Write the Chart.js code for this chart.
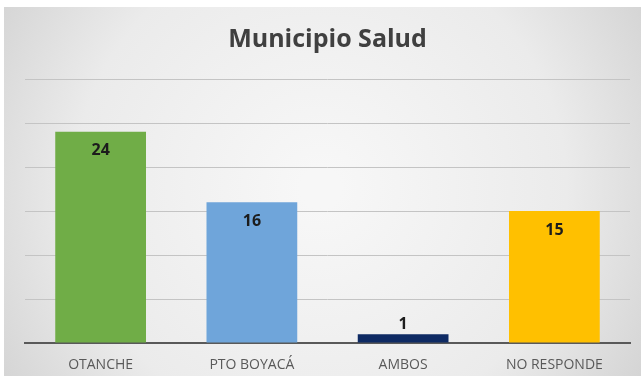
<!DOCTYPE html>
<html>
<head>
    <title>Municipio Salud</title>
    <script src="https://cdn.jsdelivr.net/npm/chart.js@4.4.0/dist/chart.umd.min.js"></script>
    <style>
        html, body { margin: 0; padding: 0; background: #ffffff; }
        #wrap { width: 641px; height: 376px; }
    </style>
</head>
<body>
    <div id="wrap"><canvas id="saludChart" width="641" height="376"></canvas></div>

    <script>
        // Respuestas por municipio
        const categories = ['OTANCHE', 'PTO BOYACÁ', 'AMBOS', 'NO RESPONDE'];
        const counts = [24, 16, 1, 15];
        const barColors = ['#70AD47', '#6FA5DA', '#0E2A63', '#FFC000'];
        const yTicks = [0, 5, 10, 15, 20, 25, 30];

        // Gray panel with a soft radial highlight behind the chart
        const panelBackground = {
            id: 'panelBackground',
            beforeDraw(chart) {
                const ctx = chart.ctx;
                const w = chart.width, h = chart.height;
                ctx.save();
                ctx.fillStyle = '#ffffff';
                ctx.fillRect(0, 0, w, h);
                const g = ctx.createRadialGradient(w / 2, h / 2, 20, w / 2, h / 2, w * 0.62);
                g.addColorStop(0, '#f7f7f7');
                g.addColorStop(0.6, '#ebebeb');
                g.addColorStop(1, '#d0d0d0');
                ctx.fillStyle = g;
                ctx.fillRect(4, 7, w - 4, h - 7);
                ctx.restore();
            }
        };

        // Value labels: inside the top of the bar, or above it when the bar is short
        const valueLabels = {
            id: 'valueLabels',
            afterDatasetsDraw(chart) {
                const ctx = chart.ctx;
                const meta = chart.getDatasetMeta(0);
                ctx.save();
                ctx.font = 'bold 16px "Open Sans", sans-serif';
                ctx.fillStyle = '#1c1c1c';
                ctx.textAlign = 'center';
                ctx.textBaseline = 'middle';
                meta.data.forEach((bar, i) => {
                    const height = bar.base - bar.y;
                    const y = height > 30 ? bar.y + 19 : bar.y - 10;
                    ctx.fillText(String(counts[i]), bar.x, y);
                });
                ctx.restore();
            }
        };

        new Chart(document.getElementById('saludChart'), {
            type: 'bar',
            data: {
                labels: categories,
                datasets: [{
                    data: counts,
                    backgroundColor: barColors,
                    borderWidth: 0,
                    barPercentage: 0.6,
                    categoryPercentage: 1.0
                }]
            },
            options: {
                responsive: false,
                animation: false,
                layout: { padding: { left: 25, right: 11, top: 0, bottom: 0 } },
                plugins: {
                    legend: { display: false },
                    tooltip: { enabled: false },
                    title: {
                        display: true,
                        text: 'Municipio Salud',
                        color: '#404040',
                        font: { family: '"Open Sans", sans-serif', size: 25, weight: 'bold' },
                        padding: { top: 25, bottom: 24 }
                    }
                },
                scales: {
                    x: {
                        afterFit(axis) {
                            axis.height = 33;
                        },
                        grid: { display: false, drawTicks: false },
                        border: { display: true, color: '#595959', width: 2 },
                        ticks: {
                            color: '#595959',
                            font: { family: '"Open Sans", sans-serif', size: 14 },
                            padding: 14
                        }
                    },
                    y: {
                        min: 0,
                        max: 30,
                        afterBuildTicks(axis) {
                            axis.ticks = yTicks.map(v => ({ value: v }));
                        },
                        ticks: { display: false },
                        grid: { color: '#c4c4c4', lineWidth: 1, drawTicks: false },
                        border: { display: false }
                    }
                }
            },
            plugins: [panelBackground, valueLabels]
        });
    </script>
</body>
</html>
